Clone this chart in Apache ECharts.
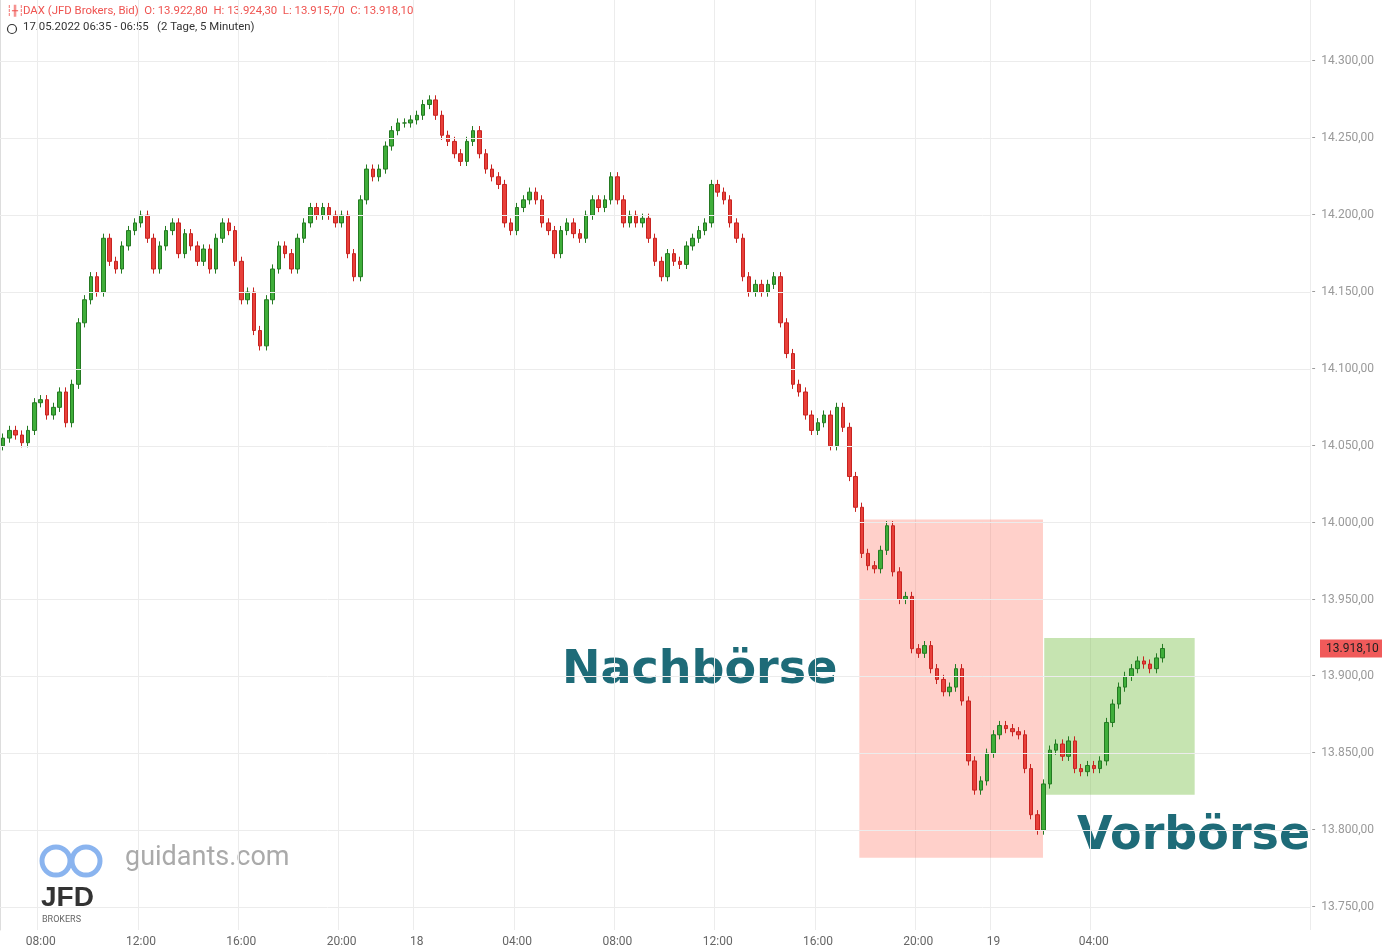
<!DOCTYPE html>
<html><head><meta charset="utf-8">
<script src="https://cdn.jsdelivr.net/npm/echarts@6/dist/echarts.min.js"></script>
<style>html,body{margin:0;padding:0;background:#fff}#c{width:1382px;height:952px}</style>
</head><body><div id="c"></div>
<script>
// 15-minute closes
const closes = [
14055,14060,14057,14052,14060,14078,14080,14070,14075,14085,14065,14090,14130,14145,14160,14150,14185,14170,14165,14180,
14190,14195,14200,14185,14165,14180,14190,14195,14175,14188,14180,14170,14178,14165,14185,14195,14190,14170,14145,14150,
14125,14115,14145,14165,14180,14175,14165,14185,14195,14205,14200,14205,14200,14195,14200,14175,14160,14210,14230,14225,
14230,14245,14255,14260,14260,14262,14265,14272,14275,14265,14252,14248,14240,14235,14248,14255,14240,14230,14225,14220,
14195,14190,14205,14210,14215,14210,14195,14190,14175,14190,14195,14188,14185,14200,14210,14205,14210,14225,14210,14195,
14200,14195,14198,14185,14170,14160,14175,14170,14168,14180,14185,14190,14195,14220,14215,14210,14195,14185,14160,14150,
14155,14150,14155,14160,14130,14110,14090,14085,14070,14060,14065,14070,14050,14075,14062,14030,14010,13980,13972,13970,
13982,13998,13968,13950,13952,13918,13915,13920,13905,13898,13890,13893,13905,13884,13845,13826,13832,13850,13862,13868,
13866,13864,13862,13840,13810,13800,13830,13852,13856,13848,13858,13840,13838,13842,13840,13845,13870,13882,13893,13900,
13905,13910,13908,13905,13912,13918.1];
const firstOpen = 14050;
const wick = 3;
const yTicks = [13750,13800,13850,13900,13950,14000,14050,14100,14150,14200,14250,14300];
const timeLabels = {'08:00':1,'12:00':1,'16:00':1,'20:00':1,'04:00':1};
const lastLabelSlot = 180;
const totalSlots = 209;
const lastPrice = 13918.10;
const redBox = {x0:137.1, x1:166.4, y0:13782, y1:14002};
const greenBox = {x0:166.6, x1:190.6, y0:13823, y1:13925};

const cats = [];
let m = 6*60+30, day = 17;
while (cats.length < totalSlots) {
  const h = Math.floor(m/60)%24, mi = m%60;
  if (h !== 22) {
    const s = String(h).padStart(2,'0')+':'+String(mi).padStart(2,'0');
    cats.push(h===0&&mi===0 ? String(day) : s);
  }
  m += 15; if (m >= 24*60) { m -= 24*60; day++; }
}
const isLabel = i => i < lastLabelSlot && (timeLabels[cats[i]] || /^\d\d$/.test(cats[i]));
const ohlc = closes.map((c,i)=>{const o = i===0?firstOpen:closes[i-1];
  return [o,c,Math.min(o,c)-wick,Math.max(o,c)+wick];});
const fmt = v => v.toLocaleString('de-DE',{minimumFractionDigits:2,maximumFractionDigits:2});

const chart = echarts.init(document.getElementById('c'));
chart.setOption({
  animation:false,
  grid:{left:0,right:72,top:0,bottom:22},
  xAxis:[{type:'category',data:cats,boundaryGap:true,
    axisLine:{show:false},axisTick:{show:false},
    axisLabel:{interval:(i)=>isLabel(i),color:'#666',fontSize:12,fontFamily:'Roboto',margin:6},
    splitLine:{show:true,interval:(i)=>isLabel(i),lineStyle:{color:'#ececec'}}},
    {type:'value',min:0,max:totalSlots,show:false}],
  yAxis:{type:'value',position:'right',min:13735,max:14340,interval:5,
    axisLine:{show:true,lineStyle:{color:'#ddd'}},axisTick:{show:false},splitLine:{show:false},
    axisLabel:{color:'#999',fontSize:12,fontFamily:'Roboto',margin:2,
      formatter:v=>yTicks.includes(v)?'-  '+fmt(v):''}},
  series:[
    {type:'line',data:[],xAxisIndex:0,silent:true,
      markLine:{silent:true,symbol:'none',label:{show:false},
        lineStyle:{color:'#ececec',type:'solid',width:1},
        data:yTicks.map(v=>({yAxis:v}))}},
    {type:'candlestick',data:ohlc,barWidth:4,z:3,
      itemStyle:{color:'#3fae3a',color0:'#e8403a',borderColor:'#247a22',borderColor0:'#c72320',borderWidth:1}},
    {type:'line',data:[],xAxisIndex:1,z:5,silent:true,
      markArea:{silent:true,data:[
        [{coord:[redBox.x0,redBox.y1],itemStyle:{color:'rgba(255,110,90,0.32)'}},{coord:[redBox.x1,redBox.y0]}],
        [{coord:[greenBox.x0,greenBox.y1],itemStyle:{color:'rgba(120,190,70,0.42)'}},{coord:[greenBox.x1,greenBox.y0]}]]}},
    {type:'line',data:[],xAxisIndex:0,z:6,silent:true,
      markLine:{silent:true,symbol:'none',lineStyle:{color:'rgba(0,0,0,0)',width:0},
        label:{show:true,position:'end',formatter:fmt(lastPrice),
          backgroundColor:'#f05a5a',color:'#222',fontSize:12,fontFamily:'Roboto',padding:[3,4,3,6],distance:10},
        data:[{yAxis:lastPrice}]}}
  ],
  graphic:[
    {type:'text',left:23,top:6,style:{text:'DAX (JFD Brokers, Bid)  O: 13.922,80  H: 13.924,30  L: 13.915,70  C: 13.918,10',fill:'#ef5350',font:'11.4px Roboto'}},
    {type:'text',left:6,top:6,style:{text:'┆╫┆',fill:'#ef5350',font:'10px DejaVu Sans'}},
    {type:'circle',shape:{cx:12,cy:29,r:4.5},style:{fill:'none',stroke:'#333',lineWidth:1.2}},
    {type:'text',left:23,top:22,style:{text:'17.05.2022 06:35 - 06:55   (2 Tage, 5 Minuten)',fill:'#333',font:'11.4px Roboto'}},
    {type:'text',left:562,top:648,style:{text:'Nachbörse',fill:'#1e6b78',font:'bold 46px "DejaVu Sans"'}},
    {type:'text',left:1077,top:814,style:{text:'Vorbörse',fill:'#1e6b78',font:'bold 46px "DejaVu Sans"'}},
    {type:'circle',shape:{cx:56,cy:861,r:14},style:{fill:'none',stroke:'#8ab4ef',lineWidth:5}},
    {type:'circle',shape:{cx:86,cy:861,r:14},style:{fill:'none',stroke:'#8ab4ef',lineWidth:5}},
    {type:'text',left:125,top:845,style:{text:'guidants.com',fill:'#aaa',font:'27px Roboto'}},
    {type:'text',left:41,top:884,style:{text:'JFD',fill:'#333',font:'bold 28px "Liberation Sans"'}},
    {type:'text',left:42,top:915,style:{text:'BROKERS',fill:'#666',font:'9px Roboto'}}
  ]
});
</script></body></html>
